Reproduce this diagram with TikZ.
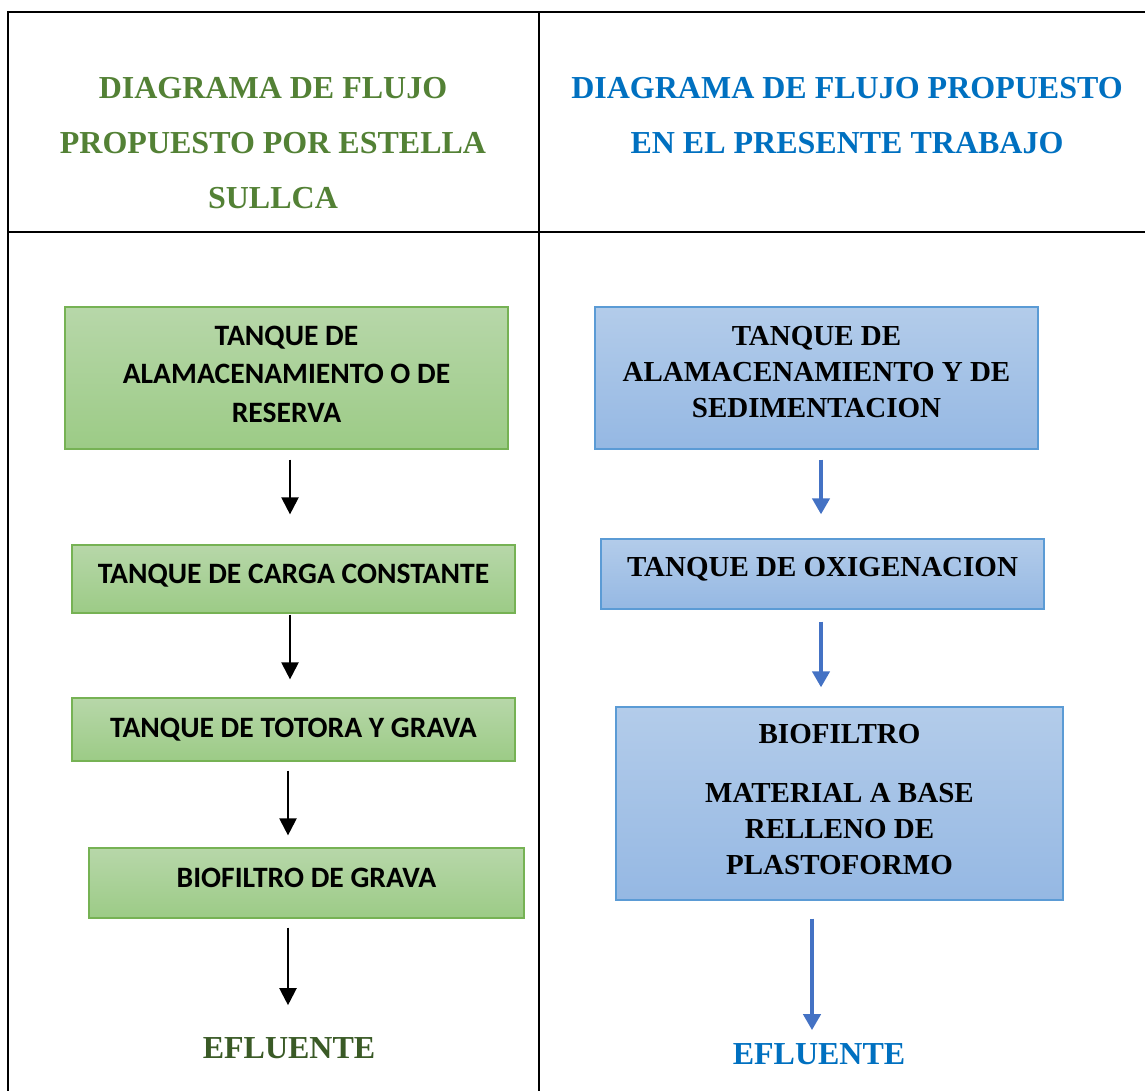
\documentclass[tikz,border=0pt]{standalone}
\usepackage{fontspec}
\setmainfont{Liberation Serif}
\newfontfamily\calib{Carlito}
\usetikzlibrary{arrows.meta}
\definecolor{titgreen}{HTML}{538135}
\definecolor{effgreen}{HTML}{3A5A26}
\definecolor{titblue}{HTML}{0070C0}
\definecolor{arrblue}{HTML}{4472C4}
\definecolor{gtop}{HTML}{B7D7A9}
\definecolor{gbot}{HTML}{9CCB86}
\definecolor{gedge}{HTML}{76B254}
\definecolor{btop}{HTML}{B3CCEA}
\definecolor{bbot}{HTML}{95B8E3}
\definecolor{bedge}{HTML}{5B9BD5}
\tikzset{
  gbox/.style={draw=gedge, line width=1.2pt, top color=gtop, bottom color=gbot,
    inner sep=0pt, align=center, font=\calib\bfseries\fontsize{29.6}{38.5}\selectfont},
  bbox/.style={draw=bedge, line width=1.2pt, top color=btop, bottom color=bbot,
    inner sep=0pt, align=center, font=\bfseries\fontsize{29}{36}\selectfont},
  gtitle/.style={align=center, text=titgreen, inner sep=0pt, font=\bfseries\fontsize{32}{55}\selectfont},
  btitle/.style={align=center, text=titblue, inner sep=0pt, font=\bfseries\fontsize{32}{55}\selectfont},
  karr/.style={draw=black, line width=2.2pt, -{Triangle[width=17pt,length=17pt]}},
  barr/.style={draw=arrblue, line width=4pt, -{Triangle[width=17pt,length=16pt]}},
  tline/.style={draw=black, line width=2pt},
}
\begin{document}
\begin{tikzpicture}[x=1pt,y=-1pt]
\useasboundingbox (0,0) rectangle (1145,1091);
% table
\draw[tline] (7,12) -- (1145,12);
\draw[tline, line width=2.6pt] (7,232) -- (1145,232);
\draw[tline] (8,11) -- (8,1091);
\draw[tline, line width=1.5pt] (539,12) -- (539,1091);
% titles
\node[gtitle] (t1) at (273,143) {DIAGRAMA DE FLUJO\\PROPUESTO POR ESTELLA\\SULLCA};
\node[btitle] (t2) at (847,115.5) {DIAGRAMA DE FLUJO PROPUESTO\\EN EL PRESENTE TRABAJO};
% left column
\node[gbox, minimum width=443pt, minimum height=142pt, text depth=8pt] (g1) at (286.5,378) {TANQUE DE\\ALAMACENAMIENTO O DE\\RESERVA};
\node[gbox, minimum width=443pt, minimum height=68pt, text depth=11pt] (g2) at (293.5,579) {TANQUE DE CARGA CONSTANTE};
\node[gbox, minimum width=443pt, minimum height=63pt, text depth=4pt] (g3) at (293.5,729.5) {TANQUE DE TOTORA Y GRAVA};
\node[gbox, minimum width=435pt, minimum height=70pt, text depth=10pt] (g4) at (306.5,883) {BIOFILTRO DE GRAVA};
\node[text=effgreen, inner sep=0pt, font=\bfseries\fontsize{32}{38}\selectfont] (e1) at (289,1048) {EFLUENTE};
% right column
\node[bbox, minimum width=443pt, minimum height=142pt, text depth=12pt] (b1) at (816.5,378) {TANQUE DE\\ALAMACENAMIENTO Y DE\\SEDIMENTACION};
\node[bbox, minimum width=443pt, minimum height=70pt, text depth=14pt] (b2) at (822.5,574) {TANQUE DE OXIGENACION};
\node[bbox, minimum width=447pt, minimum height=193pt, text depth=8pt] (b3) at (839.5,803.5) {BIOFILTRO\\[23pt]MATERIAL A BASE\\RELLENO DE\\PLASTOFORMO};
\node[text=titblue, inner sep=0pt, font=\bfseries\fontsize{32}{38}\selectfont] (e2) at (819,1054) {EFLUENTE};
% arrows left
\draw[karr, shorten <=10pt, shorten >=30pt] (g1.south -| 290,0) -- (g2.north -| 290,0);
\draw[karr, shorten <=1pt, shorten >=18pt] (g2.south -| 290,0) -- (g3.north -| 290,0);
\draw[karr, shorten <=9pt, shorten >=12pt] (g3.south -| 288,0) -- (g4.north -| 288,0);
\draw[karr, shorten <=9pt, shorten >=32pt] (g4.south -| 288,0) -- (e1.north -| 288,0);
% arrows right
\draw[barr, shorten <=10pt, shorten >=24pt] (b1.south -| 821,0) -- (b2.north -| 821,0);
\draw[barr, shorten <=12pt, shorten >=19pt] (b2.south -| 821,0) -- (b3.north -| 821,0);
\draw[barr, shorten <=18pt, shorten >=13pt] (b3.south -| 812,0) -- (e2.north -| 812,0);
\end{tikzpicture}
\end{document}
